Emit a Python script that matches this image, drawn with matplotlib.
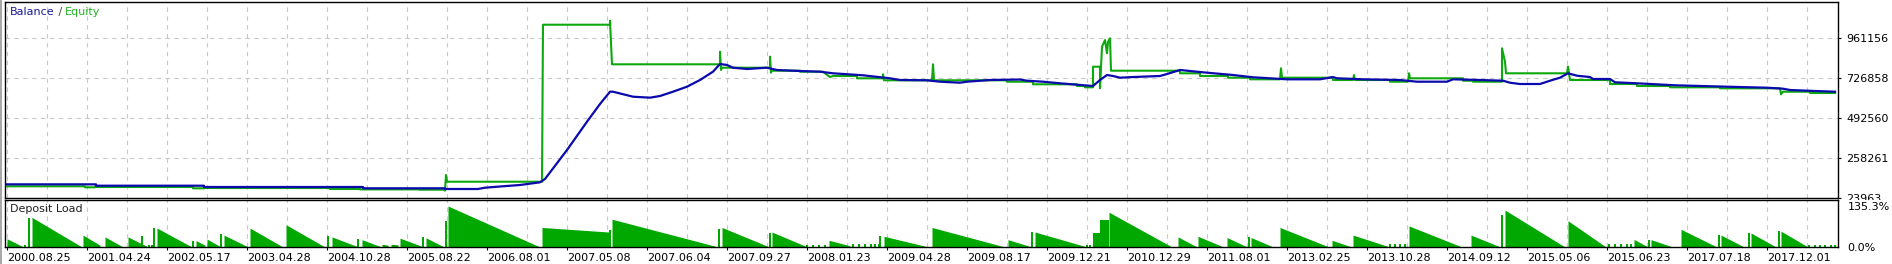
import matplotlib
matplotlib.use('Agg')
import matplotlib.pyplot as plt
from matplotlib.patches import Rectangle

plt.rcParams['font.family'] = ['DejaVu Sans']
plt.rcParams['font.size'] = 8

# x axis = deal number, a date label every 80 deals
date_labels = ['2000.08.25', '2001.04.24', '2002.05.17', '2003.04.28', '2004.10.28',
               '2005.08.22', '2006.08.01', '2007.05.08', '2007.06.04', '2007.09.27',
               '2008.01.23', '2009.04.28', '2009.08.17', '2009.12.21', '2010.12.29',
               '2011.08.01', '2013.02.25', '2013.10.28', '2014.09.12', '2015.05.06',
               '2015.06.23', '2017.07.18', '2017.12.01']
label_step = 80

balance_deal = [0, 89, 89, 197, 197, 356, 356, 438, 438, 471, 478, 493, 513, 533, 538,
                560, 580, 593, 603, 606, 626, 643, 653, 666, 680, 693, 706, 713, 720,
                726, 740, 760, 770, 793, 813, 826, 856, 883, 893, 920, 933, 953, 960,
                983, 1013, 1020, 1036, 1053, 1070, 1086, 1093, 1100, 1106, 1113, 1126,
                1153, 1160, 1173, 1183, 1200, 1226, 1246, 1280, 1313, 1326, 1330, 1356,
                1393, 1410, 1440, 1446, 1473, 1496, 1503, 1513, 1533, 1543, 1553, 1561,
                1570, 1583, 1586, 1603, 1608, 1630, 1668, 1720, 1760, 1776, 1783, 1808,
                1828]
balance_value = [104000, 104000, 96000, 96000, 88400, 88400, 80800, 80800, 76700, 76700,
                 84300, 91300, 100100, 115900, 135300, 305100, 470900, 574600, 646600,
                 646600, 617300, 611600, 621400, 646600, 675900, 715100, 763900, 808900,
                 803000, 787200, 779600, 787200, 773700, 767800, 763900, 754400, 742700,
                 725100, 715100, 713400, 705200, 699300, 705200, 715100, 718000, 711000,
                 705200, 695800, 687600, 680000, 715100, 744400, 738600, 728600, 732500,
                 738600, 750300, 773700, 767800, 757900, 744400, 731000, 719200, 719200,
                 732500, 725100, 719200, 715100, 705200, 705200, 719200, 715100, 711000,
                 699300, 691700, 691700, 711000, 728600, 754400, 740300, 732500, 721000,
                 721000, 701700, 695800, 684100, 675900, 670000, 664200, 656600, 650700,
                 646600]

equity_deal = [0, 78, 78, 88, 88, 186, 186, 197, 197, 323, 323, 353, 353, 413, 413, 438,
               438, 439, 440, 535, 536, 603, 603, 604, 605, 713, 713, 714, 715, 763, 763,
               764, 765, 793, 793, 816, 823, 826, 850, 850, 876, 876, 877, 925, 926, 927,
               999, 1000, 1026, 1026, 1070, 1070, 1078, 1078, 1086, 1086, 1093, 1093, 1095,
               1098, 1100, 1101, 1103, 1104, 1173, 1173, 1193, 1193, 1221, 1221, 1243,
               1243, 1273, 1274, 1275, 1326, 1326, 1346, 1347, 1348, 1383, 1383, 1401,
               1402, 1403, 1456, 1456, 1466, 1466, 1495, 1495, 1498, 1499, 1560, 1561,
               1563, 1603, 1603, 1630, 1630, 1663, 1663, 1713, 1713, 1773, 1774, 1776,
               1803, 1803, 1828]
equity_value = [92500, 92500, 86600, 86600, 88400, 88400, 80800, 80800, 82500, 82500,
                76700, 76700, 74400, 74400, 72600, 72600, 67000, 158700, 119400, 119400,
                1039000, 1039000, 1062500, 933600, 807100, 807100, 880900, 773700, 787200,
                787200, 851600, 757900, 769600, 769600, 763900, 763900, 732500, 738600,
                738600, 725100, 725100, 748200, 713400, 713400, 807100, 713400, 713400,
                705200, 705200, 690000, 690000, 680000, 680000, 672400, 672400, 793000,
                793000, 666500, 910200, 949400, 871500, 937700, 959400, 769600, 769600,
                754400, 754400, 738600, 738600, 728600, 728600, 719200, 719200, 783700,
                728600, 728600, 715100, 715100, 744400, 715100, 715100, 705200, 705200,
                754400, 725100, 725100, 711000, 711000, 705200, 705200, 900800, 822300,
                754400, 754400, 793000, 715100, 715100, 691700, 691700, 680000, 680000,
                672400, 672400, 666500, 666500, 631400, 646600, 646600, 639000, 639000]

y_ticks = [23963, 258261, 492560, 726858, 961156]
y_top = 1172023

# deposit load episodes: (first deal, last deal, load at start %, load at end %)
load_ramps = [(0, 16, 28, 2), (25, 75, 98, 1), (76, 93, 40, 7), (98, 115, 34, 3),
              (121, 140, 34, 3), (150, 185, 63, 1), (189, 198, 22, 7), (200, 213, 27, 3),
              (217, 240, 40, 3), (243, 276, 63, 1), (279, 318, 74, 1), (325, 350, 34, 3),
              (355, 373, 25, 3), (375, 381, 10, 7), (384, 391, 10, 8), (393, 415, 30, 3),
              (419, 436, 31, 3), (441, 533, 135.3, 1), (535, 602, 65, 50), (605, 709, 92, 3),
              (715, 761, 65, 3), (765, 799, 50, 3), (822, 843, 23, 5), (877, 919, 36, 3),
              (925, 998, 65, 1), (1001, 1023, 25, 3), (1028, 1078, 50, 3), (1086, 1093, 47, 47),
              (1093, 1102, 89, 89), (1102, 1165, 115, 1), (1171, 1189, 34, 3),
              (1191, 1215, 36, 3), (1220, 1239, 32, 3), (1244, 1265, 32, 3), (1273, 1322, 65, 1),
              (1325, 1343, 23, 3), (1346, 1381, 40, 3), (1402, 1455, 70, 1), (1464, 1492, 40, 3),
              (1498, 1558, 122, 1), (1561, 1599, 87, 1), (1627, 1640, 26, 3), (1644, 1664, 25, 3),
              (1674, 1710, 59, 1), (1714, 1736, 40, 3), (1744, 1768, 47, 3), (1774, 1800, 53, 3)]
load_bar_deal = [18, 22, 135, 142, 145, 147, 186, 214, 321, 351, 416, 439, 603, 712, 763,
                 800, 806, 812, 818, 846, 852, 858, 864, 868, 872, 873, 1025, 1080, 1083,
                 1242, 1383, 1388, 1393, 1398, 1495, 1602, 1608, 1614, 1620, 1624, 1642,
                 1712, 1742, 1772, 1802, 1808, 1813, 1818, 1824, 1828]
load_bar_value = [7, 95, 36, 7, 7, 63, 22, 43, 36, 27, 33, 87, 56, 60, 47,
                  7, 7, 7, 7, 10, 10, 10, 10, 10, 10, 36, 50, 7, 7,
                  33, 10, 10, 10, 10, 106, 10, 10, 10, 10, 10, 25,
                  40, 47, 53, 7, 7, 7, 7, 7, 7]
load_max = 135.3

blue = '#0a0aad'
green = '#0da80d'
grid_kw = dict(color='#c8c8c8', linestyle=(0, (4, 4)), linewidth=0.8)

W, H = 1892, 264
fig = plt.figure(figsize=(W / 100, H / 100), dpi=100)
fig.patch.set_facecolor('white')

ax = fig.add_axes([5 / W, 1 - 198 / H, 1833 / W, 196 / H], zorder=0)
ax2 = fig.add_axes([5 / W, 1 - 247.3 / H, 1833 / W, 47.3 / H], zorder=2)

# main panel: balance / equity
ax.plot(equity_deal, equity_value, color=green, lw=1.5, zorder=3)
ax.plot(balance_deal, balance_value, color=blue, lw=1.6, zorder=4)
ax.set_xlim(-2, 1831)
ax.set_ylim(y_ticks[0], y_top)
ax.set_xticks(range(0, 1801, 40))
ax.tick_params(axis='x', length=0, labelbottom=False)
ax.yaxis.tick_right()
ax.set_yticks(y_ticks)
ax.set_yticklabels([str(v) for v in y_ticks])
ax.tick_params(axis='y', length=2, pad=4, colors='black', labelsize=8)
ax.grid(True, **grid_kw)
for s in ax.spines.values():
    s.set_color('black')
    s.set_linewidth(1.0)

t1 = ax.text(0.0027, 0.95, 'Balance', transform=ax.transAxes, color='#1a1a9a',
             va='center', ha='left')
t2 = ax.annotate(' / ', xy=(1, 0), xycoords=t1, va='bottom', color='#444444')
ax.annotate('Equity', xy=(1, 0), xycoords=t2, va='bottom', color='#22b422')

# hide lower half of the bottom price label, like the tester does
fig.add_artist(Rectangle((1839 / W, 0), 1 - 1839 / W, 1 - 199.5 / H,
                         transform=fig.transFigure, facecolor='white',
                         edgecolor='none', zorder=1))

# lower panel: deposit load
for s0, s1, h0, h1 in load_ramps:
    ax2.fill_between([s0, s1], [h0, h1], 0, color='#00a800', lw=0)
ax2.bar(load_bar_deal, load_bar_value, width=1.6, color='#00a800', lw=0)
ax2.set_xlim(-2, 1831)
ax2.set_ylim(0, 155)
ax2.yaxis.tick_right()
ax2.set_yticks([0, load_max])
ax2.set_yticklabels(['0.0%', '%.1f%%' % load_max])
ax2.tick_params(axis='y', length=0, pad=7, labelsize=8)
major = [i * label_step for i in range(len(date_labels))]
ax2.set_xticks(major)
ax2.set_xticklabels(date_labels)
ax2.set_xticks([m + 40 for m in major], minor=True)
for lbl in ax2.get_xticklabels():
    lbl.set_ha('left')
ax2.tick_params(axis='x', which='major', length=2, pad=2, labelsize=8)
ax2.tick_params(axis='x', which='minor', length=0)
ax2.grid(True, axis='x', which='both', **grid_kw)
ax2.set_axisbelow(True)
for s in ax2.spines.values():
    s.set_color('black')
    s.set_linewidth(1.0)
ax2.text(0.0027, 0.8, 'Deposit Load', transform=ax2.transAxes, va='center', ha='left',
         color='#202020')

# window edge stripe on the left
fig.add_artist(Rectangle((0, 0), 2 / W, 1, transform=fig.transFigure,
                         facecolor='#a8a8a8', edgecolor='none', zorder=5))

fig.savefig('out.png', dpi=100)
